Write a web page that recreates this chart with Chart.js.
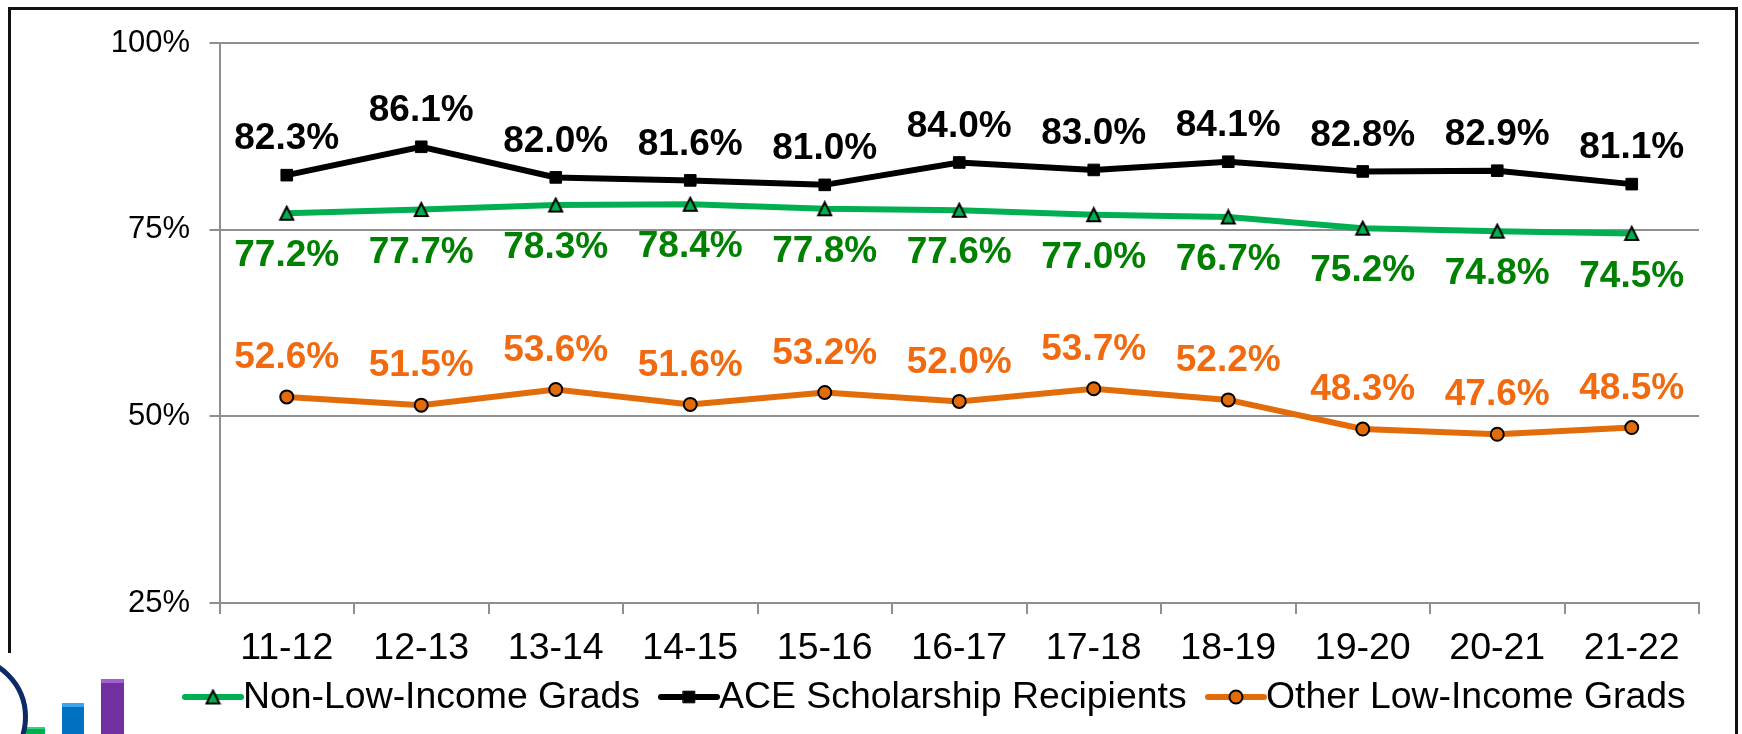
<!DOCTYPE html>
<html><head><meta charset="utf-8">
<style>
html,body{margin:0;padding:0;background:#fff;overflow:hidden}
#wrap{position:relative;width:1742px;height:734px;overflow:hidden}
#c{position:absolute;left:0;top:0}
#frame{position:absolute;left:8px;top:7px;width:1724px;height:760px;border:3px solid #111;box-sizing:content-box}
#logoMask{position:absolute;left:0;top:653px;width:180px;height:81px;background:#fff}
#ring{position:absolute;left:-96px;top:655px;width:114px;height:114px;border:5px solid #0b2a66;border-radius:50%}
.b{position:absolute;box-sizing:border-box}
</style></head><body>
<div id="wrap">
<div id="frame"></div>
<canvas id="c" width="1742" height="734"></canvas>
<div id="logoMask"></div>
<div class="b" style="left:26px;top:727px;width:19px;height:7px;background:linear-gradient(#2fd67a 0 30%,#00b050 30%)"></div>
<div class="b" style="left:62px;top:703px;width:22px;height:31px;background:linear-gradient(#3aa4ea 0 12%,#0070c0 12%)"></div>
<div class="b" style="left:101px;top:679px;width:23px;height:55px;background:linear-gradient(#a45ed0 0 8%,#7030a0 8%)"></div>
<div id="ring"></div>
</div>
<script src="https://cdn.jsdelivr.net/npm/chart.js@4"></script>
<script>
const categories = ['11-12','12-13','13-14','14-15','15-16','16-17','17-18','18-19','19-20','20-21','21-22'];
const nonLowIncome = [77.2,77.7,78.3,78.4,77.8,77.6,77.0,76.7,75.2,74.8,74.5];
const aceRecipients = [82.3,86.1,82.0,81.6,81.0,84.0,83.0,84.1,82.8,82.9,81.1];
const otherLowIncome = [52.6,51.5,53.6,51.6,53.2,52.0,53.7,52.2,48.3,47.6,48.5];
const yTicks = [25,50,75,100];
const seriesNames = ['Non-Low-Income Grads','ACE Scholarship Recipients','Other Low-Income Grads'];

const FONT = '"Liberation Sans", Arial, sans-serif';
const GREEN='#00b050', BLACK='#000000', ORANGE='#e36c0a', AXIS='#8f8f8f';

// Triangle marker centred on its point, as in the reference
const triangleMarker = document.createElement('canvas');
triangleMarker.width = 17; triangleMarker.height = 17;
(function(){
  const m = triangleMarker.getContext('2d');
  m.fillStyle = GREEN; m.strokeStyle = '#000'; m.lineWidth = 2; m.lineJoin = 'miter';
  m.beginPath(); m.moveTo(8.5,2); m.lineTo(15,15); m.lineTo(2,15); m.closePath();
  m.fill(); m.stroke();
})();

const labelPlugin = {
  id:'valueLabels',
  afterDatasetsDraw(chart){
    const ctx=chart.ctx;
    ctx.save();
    ctx.font='bold 37px '+FONT;
    ctx.textAlign='center';ctx.textBaseline='middle';
    chart.data.datasets.forEach((ds,i)=>{
      const meta=chart.getDatasetMeta(i);
      ctx.fillStyle=ds.labelColor;
      meta.data.forEach((pt,j)=>{
        ctx.fillText(ds.data[j].toFixed(1)+'%',pt.x,pt.y+ds.labelOffset);
      });
    });
    ctx.restore();
  }
};

const legendPlugin = {
  id:'lineLegend',
  afterDraw(chart){
    const ctx=chart.ctx;
    const y=697;
    const starts=[185,661,1208];
    const sw=56;
    ctx.save();
    ctx.font='37.4px '+FONT;
    ctx.textBaseline='middle';ctx.textAlign='left';
    chart.data.datasets.forEach((ds,i)=>{
      const x=starts[i];
      ctx.strokeStyle=ds.borderColor;ctx.lineWidth=ds.borderWidth;ctx.lineCap='round';
      ctx.beginPath();ctx.moveTo(x,y);ctx.lineTo(x+sw,y);ctx.stroke();
      ctx.fillStyle=ds.pointBackgroundColor;ctx.strokeStyle=ds.pointBorderColor;ctx.lineWidth=ds.pointBorderWidth;
      Chart.helpers.drawPoint(ctx,{pointStyle:ds.pointStyle,radius:ds.pointRadius,borderWidth:ds.pointBorderWidth,rotation:0},x+sw/2,y);
      ctx.fillStyle='#000';
      ctx.fillText(ds.label,x+sw+2,y+1);
    });
    ctx.restore();
  }
};

new Chart(document.getElementById('c'),{
  type:'line',
  data:{labels:categories,datasets:[
    {label:seriesNames[0],data:nonLowIncome,borderColor:GREEN,borderWidth:6,pointStyle:triangleMarker,pointRadius:8,pointBackgroundColor:GREEN,pointBorderColor:'#000',pointBorderWidth:2,labelColor:'#008000',labelOffset:43,tension:0},
    {label:seriesNames[1],data:aceRecipients,borderColor:BLACK,borderWidth:6,pointStyle:'rect',pointRadius:8.2,pointBackgroundColor:'#000',pointBorderColor:'#000',pointBorderWidth:1,labelColor:'#000',labelOffset:-36,tension:0},
    {label:seriesNames[2],data:otherLowIncome,borderColor:ORANGE,borderWidth:6,pointStyle:'circle',pointRadius:6.5,pointBackgroundColor:ORANGE,pointBorderColor:'#000',pointBorderWidth:2,labelColor:'#f26a0f',labelOffset:-39,tension:0}
  ]},
  options:{
    responsive:false,animation:false,devicePixelRatio:1,
    layout:{padding:{left:0,right:43,top:43,bottom:0}},
    plugins:{legend:{display:false},tooltip:{enabled:false},title:{display:false}},
    scales:{
      x:{
        offset:true,
        afterFit(s){s.height=131;},
        grid:{offset:true,drawOnChartArea:false,drawTicks:true,tickLength:11,color:AXIS,lineWidth:2},
        border:{display:true,color:AXIS,width:2},
        ticks:{color:'#000',font:{family:FONT,size:37.5},padding:12,maxRotation:0,autoSkip:false}
      },
      y:{
        min:25,max:100,
        afterFit(s){s.width=219.5;},
        afterBuildTicks(s){s.ticks=yTicks.map(v=>({value:v}));},
        grid:{drawTicks:true,tickLength:10,color:AXIS,lineWidth:2},
        border:{display:true,color:AXIS,width:2},
        ticks:{color:'#000',font:{family:FONT,size:31},padding:19.5,callback:v=>v+'%'}
      }
    }
  },
  plugins:[labelPlugin,legendPlugin]
});
</script>
</body></html>
